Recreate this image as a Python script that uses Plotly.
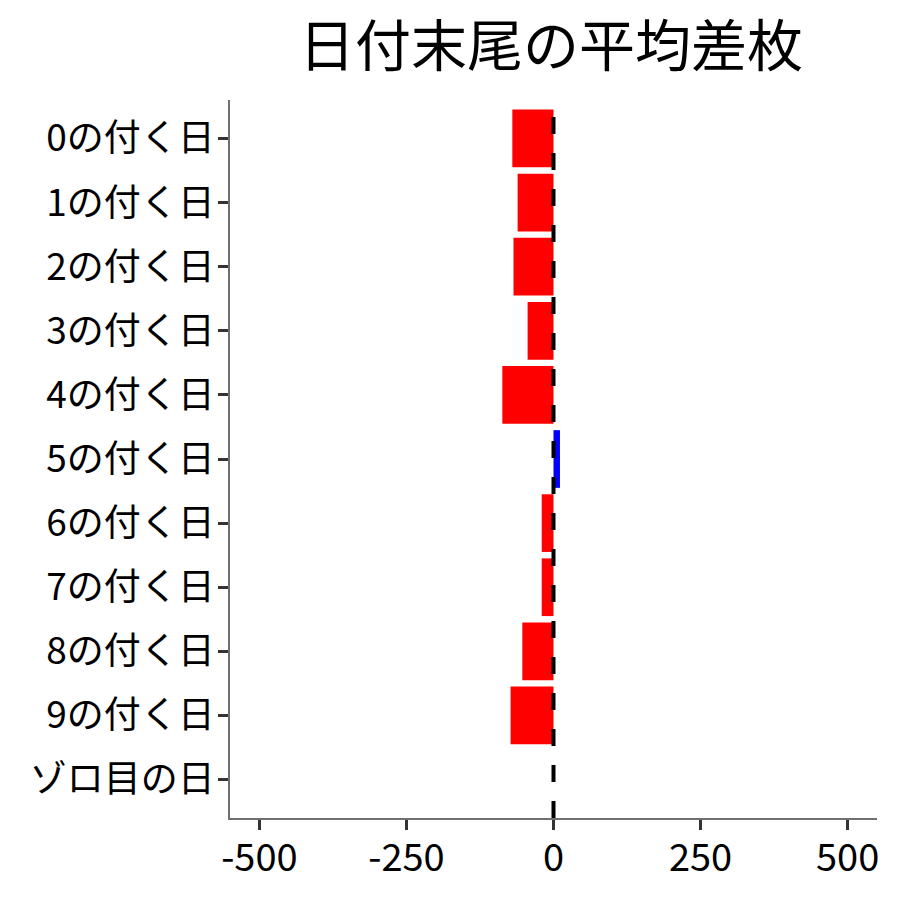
import plotly.graph_objects as go

categories = ["0の付く日", "1の付く日", "2の付く日", "3の付く日", "4の付く日",
              "5の付く日", "6の付く日", "7の付く日", "8の付く日", "9の付く日", "ゾロ目の日"]
values = [-70, -61, -68, -44, -87, 11, -20, -20, -53, -73, 0]
tick_vals = [-500, -250, 0, 250, 500]
tick_text = ["-500", "-250", "0", "250", "500"]
title_text = "日付末尾の平均差枚"

colors = ["blue" if v > 0 else "red" for v in values]

FONT = "Noto Sans CJK JP"

fig = go.Figure()
fig.add_trace(go.Bar(
    x=values, y=categories, orientation="h",
    marker=dict(color=colors, line=dict(width=0)),
    width=0.9, showlegend=False, hoverinfo="x+y",
))

fig.add_shape(type="line", xref="x", yref="paper", x0=0, x1=0, y0=0, y1=1,
              line=dict(color="black", width=4, dash="17px,19px"), layer="above")

fig.update_layout(
    width=900, height=900,
    paper_bgcolor="white", plot_bgcolor="white",
    margin=dict(l=222, r=31, t=92, b=90),
    font=dict(family=FONT, color="black"),
    title=dict(text=title_text, x=543 / 900, xanchor="center",
               y=1 - 38 / 900, yanchor="middle",
               font=dict(family=FONT, size=56, color="black")),
    bargap=0.1,
)

fig.update_xaxes(
    range=[-550, 550], tickvals=tick_vals, ticktext=tick_text,
    showgrid=False, zeroline=False,
    showline=True, linecolor="#707070", linewidth=1.5,
    ticks="outside", ticklen=10, tickwidth=3, tickcolor="#333333",
    ticklabelstandoff=-4,
    tickfont=dict(family=FONT, size=38, color="black"),
)
fig.update_yaxes(
    categoryorder="array", categoryarray=categories,
    range=[len(categories) - 0.4, -0.6],
    showgrid=False, zeroline=False,
    showline=True, linecolor="#707070", linewidth=1.5,
    ticks="outside", ticklen=10, tickwidth=3, tickcolor="#333333",
    ticklabelstandoff=-4,
    tickfont=dict(family=FONT, size=37, color="black"),
)

fig.write_html("out.html")
